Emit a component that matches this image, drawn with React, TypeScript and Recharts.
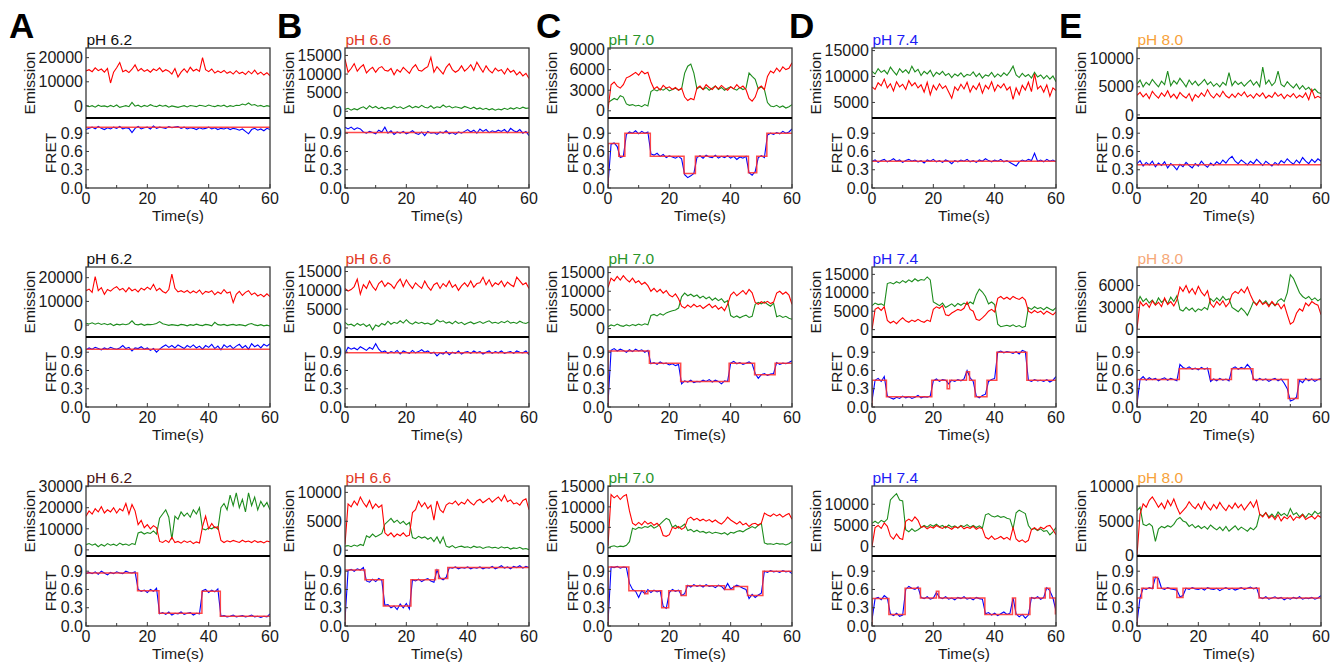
import { LineChart, Line, XAxis, YAxis } from "recharts";

// smFRET time traces: acceptor (red) / donor (green) emission on top,
// FRET efficiency (blue) with its HMM step fit (red) below. One point per second.

// ---- pH 6.2 ----
const A1_ACC = [14500, 15000, 14200, 15800, 14600, 15300, 14000, 15500, 9500, 14000, 15800, 18000, 14200, 14800, 13800, 15200, 17000, 14500, 15500, 14300, 15000, 14000, 15300, 14600, 15800, 14200, 15000, 14400, 13200, 15500, 12000, 14000, 15400, 13800, 16000, 14500, 15200, 14300, 20000, 15000, 14200, 15300, 13600, 14500, 13800, 14700, 13500, 14200, 13200, 14600, 13400, 14000, 13000, 14400, 13300, 14800, 13100, 14000, 12800, 13800, 12500];
const A1_DON = [200, -300, 100, -500, 300, -200, 0, -400, 200, -300, 400, -600, -200, 100, -300, 1500, -100, 300, -400, 200, -200, 500, 0, -300, 300, -100, 200, -500, 0, -300, -600, -200, 100, -400, 200, 0, -300, 300, 100, -200, 400, 0, -300, 200, -100, 300, -400, 100, -200, 300, 200, 800, 400, 1200, 300, 600, -100, 200, -300, 100, -200];
const A1_FRET = [0.96, 0.98, 1.0, 0.97, 1.01, 0.98, 0.96, 0.99, 0.97, 1.0, 0.98, 1.01, 0.97, 0.99, 0.98, 0.91, 0.98, 1.01, 0.97, 0.99, 1.0, 0.97, 1.02, 0.98, 1.0, 0.99, 0.98, 1.01, 0.99, 1.0, 1.01, 0.98, 1.0, 0.97, 0.99, 0.98, 0.96, 0.99, 0.97, 0.98, 1.0, 0.97, 0.99, 0.96, 0.98, 0.97, 0.99, 0.96, 0.98, 0.97, 0.95, 0.97, 0.93, 0.89, 0.96, 0.98, 0.95, 0.97, 0.94, 0.98, 0.96];
const A1_FIT = [[0, 1.0], [60, 1.0]];

const A2_ACC = [14500, 15200, 13800, 20500, 14500, 15800, 13000, 15000, 14300, 15500, 16200, 14800, 15500, 14000, 15800, 14500, 15200, 14000, 15600, 14800, 16000, 15000, 17200, 14500, 15500, 14200, 13500, 15000, 21500, 15500, 14000, 14500, 13800, 14600, 13500, 14400, 13600, 14800, 13000, 14200, 13800, 14500, 12800, 14000, 13200, 15000, 13500, 14000, 9500, 13000, 14200, 12500, 13800, 14500, 12800, 13600, 12300, 13000, 12000, 13200, 12000];
const A2_DON = [800, 500, 1000, 400, 900, 300, 700, 200, 600, -200, 400, 100, 500, 200, 600, 1800, 400, 100, 500, -100, 300, 200, 400, 700, 1500, 600, 300, -100, 200, 0, -200, 300, 100, -300, 200, -100, 400, 0, -200, 300, 100, -300, 1200, 200, 0, 300, -200, 100, 300, -100, 200, 0, -300, 400, 700, 100, -200, 200, -300, 0, -400];
const A2_FRET = [0.94, 0.97, 0.95, 0.98, 0.96, 0.94, 0.97, 0.95, 0.98, 0.96, 0.95, 0.97, 1.01, 0.96, 0.98, 0.92, 0.97, 0.96, 0.99, 0.95, 0.97, 0.93, 0.96, 0.9, 0.95, 0.99, 1.02, 0.98, 1.01, 0.97, 1.02, 0.99, 0.96, 1.01, 0.98, 1.02, 0.97, 1.0, 0.95, 1.01, 0.98, 1.03, 0.96, 1.0, 0.94, 1.02, 0.98, 1.01, 0.96, 1.0, 1.03, 0.97, 1.01, 0.95, 1.04, 0.99, 1.02, 0.97, 1.03, 1.0, 1.04];
const A2_FIT = [[0, 0.95], [60, 0.95]];

const A3_ACC = [16000, 18500, 17000, 19500, 18000, 20500, 17500, 19000, 18000, 20000, 17500, 19500, 18500, 22000, 17000, 21500, 18500, 12000, 14000, 10500, 12000, 10000, 11500, 10500, 4000, 3500, 4500, 3500, 6000, 3500, 4000, 3200, 4300, 3500, 4200, 3000, 3800, 3300, 11000, 16000, 10000, 12500, 10500, 11000, 4500, 3500, 4300, 3800, 4500, 4000, 3500, 4600, 3800, 4200, 3500, 4400, 3600, 4000, 3300, 4200, 3800];
const A3_DON = [2500, 3000, 2200, 2800, 1500, 2600, 1800, 3000, 2200, 2700, 2000, 3200, 2400, 2800, 2100, 3000, 2500, 8000, 8500, 7500, 8200, 7800, 9000, 7500, 15000, 17000, 19000, 15500, 5000, 16000, 14500, 18000, 16000, 17500, 15500, 19000, 17000, 20000, 10000, 9500, 10500, 10000, 11000, 9800, 20000, 22000, 19000, 26000, 21000, 27000, 20000, 24000, 18000, 27000, 21000, 25000, 19000, 23000, 20500, 22500, 19000];
const A3_FRET = [0.86, 0.88, 0.86, 0.89, 0.85, 0.9, 0.87, 0.84, 0.88, 0.86, 0.89, 0.87, 0.86, 0.9, 0.88, 0.87, 0.89, 0.6, 0.57, 0.59, 0.55, 0.6, 0.57, 0.62, 0.2, 0.22, 0.19, 0.23, 0.18, 0.21, 0.2, 0.23, 0.19, 0.21, 0.22, 0.18, 0.21, 0.2, 0.58, 0.6, 0.55, 0.59, 0.56, 0.61, 0.16, 0.17, 0.15, 0.16, 0.18, 0.15, 0.16, 0.17, 0.15, 0.16, 0.18, 0.15, 0.16, 0.14, 0.16, 0.15, 0.2];
const A3_FIT = [[0, 0.87], [16.8, 0.58], [23.8, 0.21], [37.8, 0.57], [43.8, 0.16], [60, 0.16]];

// ---- pH 6.6 ----
const B1_ACC = [14000, 10500, 11500, 12800, 10800, 11800, 12500, 10300, 11200, 11800, 10500, 11600, 12000, 11000, 10800, 11500, 9800, 11200, 10500, 11800, 11000, 10200, 11700, 12500, 11000, 10800, 11500, 12000, 14500, 10500, 12000, 11000, 10000, 11800, 12800, 11200, 10500, 11000, 12200, 10800, 11500, 12500, 11000, 13200, 11800, 10500, 12200, 11000, 10300, 11600, 10800, 11200, 10000, 11500, 10500, 11000, 9800, 10600, 9500, 10200, 8800];
const B1_DON = [500, 800, 300, 700, 400, 900, 1200, 600, 1500, 900, 1300, 700, 1100, 600, 1000, 800, 1400, 900, 1200, 700, 1100, 1500, 900, 1300, 1000, 1600, 1100, 900, 1500, 800, 1200, 1000, 1700, 1100, 1400, 900, 1200, 1000, 800, 1300, 1000, 700, 1100, 600, 900, 500, 800, 400, 700, 300, 600, 400, 800, 500, 900, 600, 1000, 700, 1100, 800, 900];
const B1_FRET = [1.0, 0.97, 1.0, 0.96, 0.99, 0.97, 0.92, 0.9, 0.93, 0.91, 0.89, 0.95, 0.92, 1.0, 0.9, 0.94, 0.88, 0.92, 0.9, 0.93, 0.89, 0.91, 0.94, 0.9, 0.88, 0.92, 0.86, 0.93, 0.9, 0.91, 0.88, 0.92, 0.9, 0.94, 0.89, 0.91, 0.88, 0.92, 0.9, 0.93, 0.96, 0.92, 0.95, 0.9, 0.97, 0.93, 0.96, 0.91, 0.94, 0.92, 0.95, 0.93, 0.96, 0.91, 0.98, 0.94, 0.92, 0.96, 0.9, 0.93, 0.86];
const B1_FIT = [[0, 0.91], [60, 0.91]];

const B2_ACC = [10500, 9800, 10200, 11000, 13000, 9000, 11500, 10500, 12500, 11000, 10000, 11800, 12500, 11000, 12000, 11500, 10500, 12000, 13000, 11000, 12800, 11500, 10500, 12000, 11200, 10500, 12500, 11000, 10000, 11500, 12000, 10500, 11800, 11000, 12500, 10800, 11500, 10000, 11200, 12000, 11000, 12500, 10800, 11800, 12000, 13500, 11500, 12800, 11000, 12000, 11500, 12500, 11000, 12200, 11500, 11000, 13500, 12500, 11500, 12000, 10500];
const B2_DON = [1500, 800, 1000, 500, 1200, 700, 1100, 400, 900, -500, 800, 400, 1200, 800, 1800, 1000, 1500, 1200, 1900, 1300, 2200, 1400, 1000, 1600, 1200, 1500, 1100, 1300, 900, 1200, 2200, 1600, 1900, 1300, 1600, 1100, 1800, 1200, 1500, 900, 1300, 1600, 1100, 1400, 1700, 1200, 1600, 1900, 1300, 1500, 1200, 1700, 1400, 1900, 1300, 1500, 1200, 1800, 1400, 1200, 1600];
const B2_FRET = [0.88, 0.98, 0.95, 0.97, 0.94, 0.99, 0.96, 0.93, 0.98, 0.95, 1.04, 0.95, 0.9, 0.92, 0.88, 0.91, 0.89, 0.93, 0.87, 0.92, 0.9, 0.88, 0.93, 0.89, 0.91, 0.94, 0.9, 0.92, 0.88, 0.9, 0.84, 0.89, 0.87, 0.91, 0.86, 0.9, 0.88, 0.92, 0.87, 0.9, 0.91, 0.88, 0.92, 0.89, 0.91, 0.87, 0.9, 0.92, 0.88, 0.91, 0.89, 0.92, 0.88, 0.9, 0.91, 0.88, 0.92, 0.9, 0.89, 0.92, 0.86];
const B2_FIT = [[0, 0.89], [60, 0.89]];

const B3_ACC = [1000, 8000, 7500, 8500, 7800, 9200, 8200, 7500, 8600, 7200, 8000, 7400, 7800, 3000, 2500, 3000, 2300, 2800, 2500, 3000, 2400, 2600, 6500, 7000, 8500, 7500, 8200, 7200, 7800, 5200, 8500, 7000, 6500, 7800, 8200, 8000, 8500, 7800, 8300, 8000, 8800, 8200, 7800, 8500, 8800, 8200, 8600, 9000, 8300, 8800, 9200, 8500, 9500, 8400, 8700, 8000, 8200, 7800, 8600, 8900, 7000];
const B3_DON = [700, 800, 600, 900, 700, 1000, 800, 2500, 2200, 2800, 2300, 2600, 2900, 4500, 5000, 5500, 4800, 5200, 4600, 5000, 4400, 4800, 2200, 2000, 2400, 2100, 2300, 1900, 2200, 1500, 2300, 1200, 2300, 700, 500, 800, 400, 600, 700, 500, 600, 400, 700, 500, 600, 300, 500, 600, 400, 500, 300, 600, 400, 500, 200, 400, 300, 500, 200, 300, 100];
const B3_FRET = [0.1, 0.91, 0.93, 0.9, 0.94, 0.92, 0.96, 0.74, 0.72, 0.77, 0.73, 0.78, 0.75, 0.34, 0.35, 0.3, 0.33, 0.27, 0.36, 0.3, 0.37, 0.28, 0.76, 0.74, 0.77, 0.73, 0.76, 0.78, 0.74, 0.72, 0.92, 0.79, 0.76, 0.8, 0.96, 0.95, 0.97, 0.94, 0.96, 0.95, 0.97, 0.94, 0.96, 0.95, 0.97, 0.94, 0.96, 0.95, 0.98, 0.94, 0.96, 0.99, 0.95, 0.97, 0.94, 0.98, 0.96, 0.99, 0.95, 0.98, 0.96];
const B3_FIT = [[0, 0], [0, 0.92], [6.5, 0.76], [12.5, 0.33], [21.5, 0.76], [29.5, 0.92], [30.5, 0.78], [33.5, 0.96], [60, 0.96]];

// ---- pH 7.0 ----
const C1_ACC = [200, 3800, 4200, 3600, 3300, 3800, 4800, 5000, 5300, 5600, 5200, 5800, 5400, 5600, 4200, 3200, 3500, 3000, 3700, 3300, 3500, 3100, 3400, 3000, 3300, 2000, 1500, 1800, 1600, 3300, 3600, 3100, 3800, 3400, 3100, 3600, 3200, 3700, 3300, 3000, 3500, 3200, 3800, 3300, 3600, 3100, 1800, 1400, 2000, 3300, 3600, 3100, 5000, 5800, 5500, 6200, 5700, 6400, 6000, 6200, 7000];
const C1_DON = [1200, 1500, 1800, 1600, 2200, 2000, 1000, 800, 900, 700, 800, 600, 900, 700, 2800, 3100, 2900, 3200, 3000, 3300, 2900, 3100, 3300, 3000, 3200, 5500, 6500, 6800, 5500, 3200, 3500, 3100, 3400, 3000, 3300, 3600, 3100, 3400, 3000, 3300, 3500, 3200, 3000, 3400, 3100, 3300, 5500, 5000, 4600, 3200, 3500, 3100, 1200, 700, 600, 800, 500, 700, 400, 600, 900];
const C1_FRET = [0.05, 0.72, 0.74, 0.68, 0.5, 0.52, 0.88, 0.92, 0.9, 0.94, 0.89, 0.93, 0.9, 0.92, 0.56, 0.54, 0.57, 0.52, 0.55, 0.5, 0.53, 0.51, 0.49, 0.52, 0.48, 0.22, 0.17, 0.2, 0.24, 0.5, 0.53, 0.49, 0.54, 0.51, 0.5, 0.54, 0.49, 0.52, 0.5, 0.53, 0.49, 0.52, 0.47, 0.51, 0.49, 0.52, 0.25, 0.21, 0.27, 0.5, 0.53, 0.5, 0.87, 0.9, 0.88, 0.91, 0.89, 0.93, 0.9, 0.92, 0.97];
const C1_FIT = [[0, 0], [0, 0.73], [3.5, 0.52], [5.5, 0.9], [13.8, 0.52], [24.8, 0.24], [28.5, 0.52], [45.8, 0.25], [48.5, 0.52], [51.8, 0.9], [60, 0.9]];

const C2_ACC = [11000, 13500, 12800, 14000, 13000, 14200, 13200, 12500, 13500, 12300, 12800, 11800, 12400, 11500, 10000, 10800, 9800, 10500, 9500, 10200, 9000, 8500, 9300, 8000, 6000, 5500, 6300, 5700, 6500, 5800, 6200, 5400, 6000, 6600, 5600, 6200, 5200, 5800, 4800, 6500, 9000, 9800, 8800, 9500, 10200, 9200, 10500, 9600, 7000, 6500, 7200, 6800, 7300, 6700, 7100, 9500, 10000, 9200, 9800, 9000, 6500];
const C2_DON = [500, 1000, 700, 1200, 800, 600, 1000, 700, 1100, 800, 1200, 900, 1300, 1000, 3500, 3800, 3400, 4000, 3600, 4200, 4500, 4800, 5000, 5500, 8500, 9500, 8800, 9200, 8600, 9000, 8200, 8700, 8000, 8500, 7600, 8200, 7500, 8000, 7000, 7500, 3500, 3000, 3400, 2900, 3300, 3600, 3000, 3300, 6500, 7000, 6600, 7200, 6500, 6000, 6800, 3200, 3500, 3000, 3300, 2800, 2500];
const C2_FRET = [0.05, 0.93, 0.96, 0.92, 0.95, 0.93, 0.9, 0.94, 0.91, 0.95, 0.92, 0.94, 0.9, 0.93, 0.71, 0.73, 0.7, 0.74, 0.71, 0.72, 0.69, 0.71, 0.68, 0.7, 0.38, 0.43, 0.41, 0.44, 0.4, 0.42, 0.41, 0.44, 0.42, 0.45, 0.41, 0.44, 0.42, 0.38, 0.43, 0.42, 0.72, 0.75, 0.71, 0.73, 0.7, 0.72, 0.74, 0.71, 0.55, 0.47, 0.53, 0.55, 0.52, 0.54, 0.55, 0.73, 0.7, 0.72, 0.71, 0.73, 0.76];
const C2_FIT = [[0, 0], [0, 0.92], [13.5, 0.72], [23.7, 0.42], [39.5, 0.72], [47.8, 0.53], [54.5, 0.72], [60, 0.72]];

const C3_ACC = [500, 13000, 12200, 12800, 11800, 12600, 13000, 9000, 6000, 5500, 6200, 5600, 6500, 5800, 6200, 5500, 6000, 5200, 3000, 2800, 3200, 5000, 4700, 5200, 4500, 5000, 7000, 7500, 6800, 7200, 6600, 7000, 6500, 6900, 6300, 6800, 6200, 5800, 6500, 7500, 6800, 6300, 5800, 6400, 5600, 6000, 5200, 5800, 6000, 5500, 6000, 8500, 8000, 7700, 8300, 7800, 8200, 7500, 8000, 8400, 7000];
const C3_DON = [0, 300, 500, 200, 400, 300, 600, 1500, 4800, 4500, 5000, 4800, 5200, 5000, 5500, 4800, 5200, 5800, 6500, 7200, 6800, 5000, 5500, 4800, 5200, 5800, 4200, 4500, 3900, 4300, 3800, 4000, 3600, 3900, 3500, 3800, 3600, 3400, 3700, 3200, 3800, 3600, 4000, 4200, 3900, 4400, 4800, 5200, 4800, 5500, 6000, 1200, 900, 1000, 800, 1100, 900, 1000, 700, 1000, 1500];
const C3_FRET = [0.05, 0.97, 0.96, 0.98, 0.95, 0.97, 0.96, 0.7, 0.6, 0.57, 0.47, 0.58, 0.53, 0.6, 0.55, 0.59, 0.56, 0.58, 0.32, 0.29, 0.55, 0.6, 0.57, 0.59, 0.5, 0.53, 0.67, 0.64, 0.68, 0.65, 0.67, 0.64, 0.68, 0.65, 0.66, 0.63, 0.67, 0.65, 0.6, 0.7, 0.61, 0.64, 0.67, 0.65, 0.62, 0.6, 0.45, 0.52, 0.47, 0.51, 0.54, 0.9, 0.88, 0.91, 0.89, 0.9, 0.88, 0.91, 0.89, 0.9, 0.86];
const C3_FIT = [[0, 0], [0, 0.97], [6.8, 0.58], [12, 0.53], [13, 0.58], [17.5, 0.3], [19.8, 0.58], [23.8, 0.5], [25.5, 0.66], [38, 0.6], [41, 0.65], [45.5, 0.5], [50.5, 0.9], [60, 0.9]];

// ---- pH 7.4 ----
const D1_ACC = [8000, 7500, 8800, 8200, 9500, 7800, 8600, 7200, 9000, 8000, 8500, 7500, 9200, 8200, 8800, 7800, 8400, 7000, 8900, 6500, 8300, 7400, 8600, 7700, 8200, 7000, 5800, 8000, 7300, 8500, 7600, 8900, 7000, 8200, 7500, 8700, 6800, 8300, 7600, 9000, 7200, 8400, 7800, 8600, 7400, 8000, 5600, 7800, 6500, 8300, 7400, 8900, 7100, 10500, 7600, 8200, 7000, 8400, 6200, 7800, 7300];
const D1_DON = [11000, 10500, 11500, 10800, 11200, 10500, 11800, 11000, 10300, 11500, 10800, 11300, 10600, 12000, 10900, 11400, 10200, 11000, 10500, 11200, 10000, 10800, 10400, 11000, 10200, 10600, 9800, 10500, 10100, 10700, 9900, 10400, 10200, 10900, 10000, 10600, 9700, 10300, 10100, 10800, 9900, 10500, 10000, 10700, 10200, 11000, 12000, 10300, 9800, 10600, 10000, 10400, 9700, 10800, 9900, 10300, 9600, 10200, 9500, 10100, 9000];
const D1_FRET = [0.44, 0.46, 0.42, 0.45, 0.47, 0.43, 0.45, 0.48, 0.44, 0.46, 0.42, 0.45, 0.47, 0.44, 0.46, 0.43, 0.45, 0.41, 0.46, 0.44, 0.47, 0.43, 0.45, 0.42, 0.46, 0.44, 0.4, 0.45, 0.43, 0.46, 0.44, 0.47, 0.43, 0.45, 0.42, 0.46, 0.44, 0.48, 0.45, 0.43, 0.46, 0.44, 0.47, 0.43, 0.45, 0.42, 0.39, 0.36, 0.43, 0.46, 0.44, 0.47, 0.45, 0.57, 0.44, 0.46, 0.43, 0.47, 0.44, 0.46, 0.43];
const D1_FIT = [[0, 0.44], [60, 0.44]];

const D2_ACC = [0, 5500, 6000, 5200, 6200, 2500, 1800, 2300, 1600, 2500, 3200, 2400, 2000, 2600, 2200, 2800, 2300, 2000, 2600, 2200, 5500, 6200, 5800, 6500, 4000, 3800, 4500, 5000, 5500, 5200, 5800, 7500, 5500, 5000, 2800, 2500, 3200, 4000, 5000, 5500, 4800, 8500, 9000, 8300, 8800, 8200, 9000, 8500, 8200, 8800, 8000, 5000, 4500, 5200, 4600, 5000, 4200, 5000, 4500, 4000, 4800];
const D2_DON = [6500, 7200, 6800, 7000, 6500, 12500, 12800, 12400, 13000, 12600, 13300, 12800, 13500, 13000, 13800, 13200, 13600, 13400, 14300, 13500, 7500, 7000, 6500, 7200, 6000, 6500, 7000, 6300, 7100, 6600, 7200, 6800, 7500, 7000, 9500, 11000, 10200, 9000, 7000, 7500, 6800, 1500, 800, 1000, 1200, 900, 1300, 800, 1100, 600, 900, 6000, 5500, 6200, 5700, 6000, 5400, 6100, 5600, 5200, 6000];
const D2_FRET = [0.1, 0.44, 0.47, 0.42, 0.5, 0.18, 0.15, 0.13, 0.16, 0.14, 0.18, 0.15, 0.17, 0.14, 0.16, 0.19, 0.15, 0.17, 0.16, 0.18, 0.43, 0.46, 0.42, 0.45, 0.44, 0.38, 0.44, 0.42, 0.45, 0.43, 0.46, 0.6, 0.48, 0.42, 0.18, 0.15, 0.19, 0.21, 0.42, 0.45, 0.47, 0.9, 0.92, 0.89, 0.91, 0.9, 0.88, 0.91, 0.87, 0.93, 0.91, 0.44, 0.42, 0.45, 0.43, 0.44, 0.42, 0.45, 0.41, 0.44, 0.5];
const D2_FIT = [[0, 0], [0, 0.44], [4.7, 0.17], [19.5, 0.44], [24.5, 0.3], [25.3, 0.44], [30.8, 0.58], [31.8, 0.44], [33.6, 0.17], [37.5, 0.44], [40.7, 0.9], [50.5, 0.44], [60, 0.44]];

const D3_ACC = [0, 4500, 5000, 4300, 5600, 4800, 2500, 1800, 3000, 2000, 1700, 6000, 6500, 6000, 7000, 6200, 4500, 4800, 4200, 4700, 4400, 5000, 4600, 4300, 4800, 4500, 4100, 4700, 4400, 4900, 4200, 4600, 4300, 4800, 4100, 4500, 4200, 2200, 1800, 2500, 1700, 2000, 2400, 1800, 2200, 1600, 4500, 1800, 1200, 1600, 1000, 1500, 4000, 4500, 3900, 4600, 4200, 4800, 5000, 4000, 2800];
const D3_DON = [5500, 6000, 5500, 6200, 5800, 6500, 11000, 11800, 12500, 11000, 10800, 4000, 3500, 4200, 3600, 4000, 4500, 5000, 4600, 5200, 4800, 5300, 4700, 5000, 4400, 5100, 4600, 4900, 4400, 5000, 4700, 5200, 4600, 5000, 4500, 4900, 4400, 7500, 7800, 7200, 7000, 7300, 6900, 7100, 6700, 6500, 4200, 8000, 8600, 8200, 7800, 5000, 4000, 4300, 3800, 4200, 3600, 3800, 2800, 3500, 4500];
const D3_FRET = [0.1, 0.45, 0.47, 0.43, 0.5, 0.46, 0.2, 0.17, 0.21, 0.16, 0.18, 0.6, 0.65, 0.62, 0.6, 0.64, 0.47, 0.45, 0.48, 0.44, 0.46, 0.55, 0.47, 0.45, 0.48, 0.44, 0.46, 0.43, 0.47, 0.45, 0.48, 0.44, 0.46, 0.43, 0.47, 0.45, 0.44, 0.2, 0.22, 0.18, 0.21, 0.17, 0.2, 0.23, 0.19, 0.21, 0.46, 0.2, 0.15, 0.19, 0.13, 0.18, 0.47, 0.45, 0.48, 0.44, 0.47, 0.63, 0.58, 0.46, 0.25];
const D3_FIT = [[0, 0], [0, 0.45], [5.5, 0.19], [10.8, 0.62], [15.8, 0.46], [21, 0.57], [21.8, 0.46], [36.8, 0.19], [45.8, 0.46], [46.8, 0.19], [51.5, 0.46], [56.5, 0.62], [58, 0.46], [59.8, 0.2], [60, 0.2]];

// ---- pH 8.0 ----
const E1_ACC = [3500, 4000, 3200, 3800, 2900, 4200, 3500, 3000, 3900, 3300, 4300, 3100, 3700, 2900, 4000, 3400, 3000, 3800, 2500, 3600, 3100, 3900, 3300, 4500, 3500, 3000, 3800, 3200, 4200, 3400, 3000, 3700, 3100, 3900, 3400, 4100, 3200, 3600, 3000, 3800, 3300, 3900, 3000, 3500, 3100, 4000, 3300, 3700, 2900, 3600, 3200, 3800, 3000, 3500, 3100, 3900, 2700, 4500, 3000, 3300, 3000];
const E1_DON = [5500, 6200, 5000, 5800, 5300, 6300, 5600, 5000, 6000, 5400, 7800, 5200, 6100, 5500, 6500, 5800, 5000, 6200, 5400, 6000, 5200, 5700, 6300, 5400, 5900, 5100, 5600, 5000, 5800, 5300, 7500, 5200, 6000, 5400, 5800, 5100, 5700, 6200, 5300, 5900, 5000, 8500, 5500, 6200, 5200, 5800, 7800, 5400, 5000, 5900, 5300, 4800, 5500, 4600, 5200, 4500, 4900, 4200, 4600, 4000, 3800];
const E1_FRET = [0.4, 0.45, 0.36, 0.42, 0.38, 0.44, 0.35, 0.41, 0.37, 0.43, 0.33, 0.4, 0.36, 0.3, 0.39, 0.35, 0.42, 0.37, 0.33, 0.4, 0.36, 0.44, 0.38, 0.34, 0.41, 0.37, 0.43, 0.39, 0.46, 0.41, 0.48, 0.52, 0.44, 0.4, 0.46, 0.42, 0.38, 0.44, 0.4, 0.47, 0.42, 0.37, 0.44, 0.4, 0.36, 0.42, 0.38, 0.45, 0.41, 0.48, 0.43, 0.39, 0.46, 0.41, 0.5, 0.44, 0.4, 0.47, 0.42, 0.48, 0.44];
const E1_FIT = [[0, 0.38], [60, 0.38]];

const E2_ACC = [0, 3800, 3200, 3600, 3000, 3900, 3300, 3700, 3100, 4300, 3400, 3800, 3200, 4000, 5800, 5200, 6000, 5000, 5600, 4800, 5900, 5100, 4600, 5300, 3500, 3000, 3800, 3300, 3900, 3100, 3600, 4800, 5200, 4900, 5500, 5000, 5800, 4700, 3800, 3300, 4000, 3400, 3700, 3100, 3800, 3300, 3500, 2800, 3400, 2000, 700, 1000, 2200, 2800, 2500, 3600, 3200, 3800, 3500, 3300, 2000];
const E2_DON = [3500, 4500, 3800, 4200, 3600, 4000, 3400, 4300, 3700, 4100, 3500, 4400, 3800, 4600, 2700, 2500, 3000, 2600, 2900, 2400, 2800, 2600, 3000, 2700, 4200, 3800, 4300, 3900, 4500, 4000, 4200, 3000, 2700, 2400, 2900, 2500, 1900, 2800, 3800, 3400, 4000, 3500, 3900, 3300, 3700, 3200, 3900, 4200, 3800, 5000, 7500, 7000, 6000, 5000, 4500, 4200, 4500, 4000, 4300, 3900, 4200];
const E2_FRET = [0.05, 0.45, 0.5, 0.44, 0.48, 0.45, 0.47, 0.43, 0.46, 0.48, 0.44, 0.47, 0.45, 0.43, 0.7, 0.65, 0.63, 0.66, 0.62, 0.64, 0.61, 0.65, 0.62, 0.64, 0.42, 0.46, 0.43, 0.47, 0.44, 0.46, 0.43, 0.63, 0.66, 0.62, 0.65, 0.63, 0.7, 0.64, 0.46, 0.43, 0.47, 0.44, 0.46, 0.42, 0.45, 0.47, 0.43, 0.46, 0.39, 0.3, 0.1, 0.12, 0.16, 0.44, 0.4, 0.47, 0.43, 0.46, 0.42, 0.45, 0.47];
const E2_FIT = [[0, 0], [0, 0.45], [13.8, 0.63], [24, 0.45], [30.8, 0.63], [37.8, 0.45], [49.3, 0.14], [52.5, 0.45], [60, 0.45]];

const E3_ACC = [0, 6000, 7500, 7000, 8000, 8500, 7800, 7000, 7600, 6800, 8000, 7200, 8200, 7000, 6000, 6500, 7000, 7800, 7200, 6800, 7500, 6700, 7800, 7100, 6600, 7400, 6800, 7700, 7000, 6500, 7300, 6800, 7600, 6900, 7400, 6600, 7200, 7800, 7000, 8000, 6000, 5600, 6200, 5400, 5800, 5200, 5900, 5000, 5600, 5300, 5800, 5100, 5600, 5400, 5900, 5200, 5500, 5700, 5300, 5800, 5500];
const E3_DON = [6500, 7000, 4500, 4300, 4600, 4200, 2000, 3800, 4200, 4000, 4300, 4100, 4500, 5200, 5500, 5000, 4800, 4200, 4500, 4000, 4300, 3900, 4200, 3800, 4400, 4000, 3700, 4100, 3600, 4200, 3500, 3900, 4300, 3700, 4100, 3800, 3500, 4000, 3700, 4200, 6000, 5700, 6200, 5600, 6000, 5500, 6300, 5800, 6100, 5700, 6800, 5900, 6200, 5600, 6000, 5500, 6100, 5800, 6400, 6000, 6300];
const E3_FRET = [0.05, 0.47, 0.62, 0.6, 0.63, 0.61, 0.8, 0.78, 0.62, 0.6, 0.63, 0.61, 0.6, 0.59, 0.48, 0.5, 0.62, 0.6, 0.63, 0.61, 0.6, 0.62, 0.59, 0.63, 0.61, 0.6, 0.62, 0.58, 0.61, 0.63, 0.6, 0.62, 0.59, 0.61, 0.63, 0.6, 0.62, 0.64, 0.61, 0.63, 0.47, 0.45, 0.48, 0.44, 0.46, 0.48, 0.45, 0.47, 0.43, 0.46, 0.44, 0.47, 0.45, 0.48, 0.44, 0.46, 0.45, 0.47, 0.44, 0.46, 0.5];
const E3_FIT = [[0, 0], [0, 0.46], [1.5, 0.62], [5.3, 0.8], [6.7, 0.62], [13, 0.47], [15, 0.62], [39.8, 0.46], [60, 0.46]];

const FRET_TICKS = [0, 0.3, 0.6, 0.9];
const TIME_TICKS = [0, 10, 20, 30, 40, 50, 60];

type Panel = {
  col: number; row: number; title: string; titleColor: string;
  emDomain: [number, number]; emTicks: number[];
  acc: number[]; don: number[]; fret: number[]; fit: number[][];
};

const PANELS: Panel[] = [
  { col: 0, row: 0, title: "pH 6.2", titleColor: "#111111", emDomain: [-5000, 24000], emTicks: [0, 10000, 20000], acc: A1_ACC, don: A1_DON, fret: A1_FRET, fit: A1_FIT },
  { col: 0, row: 1, title: "pH 6.2", titleColor: "#111111", emDomain: [-5000, 24500], emTicks: [0, 10000, 20000], acc: A2_ACC, don: A2_DON, fret: A2_FRET, fit: A2_FIT },
  { col: 0, row: 2, title: "pH 6.2", titleColor: "#4a1414", emDomain: [-2900, 30300], emTicks: [0, 10000, 20000, 30000], acc: A3_ACC, don: A3_DON, fret: A3_FRET, fit: A3_FIT },
  { col: 1, row: 0, title: "pH 6.6", titleColor: "#e2391f", emDomain: [-1800, 17000], emTicks: [0, 5000, 10000, 15000], acc: B1_ACC, don: B1_DON, fret: B1_FRET, fit: B1_FIT },
  { col: 1, row: 1, title: "pH 6.6", titleColor: "#e2391f", emDomain: [-2400, 16200], emTicks: [0, 5000, 10000, 15000], acc: B2_ACC, don: B2_DON, fret: B2_FRET, fit: B2_FIT },
  { col: 1, row: 2, title: "pH 6.6", titleColor: "#e2391f", emDomain: [-1000, 11100], emTicks: [0, 5000, 10000], acc: B3_ACC, don: B3_DON, fret: B3_FRET, fit: B3_FIT },
  { col: 2, row: 0, title: "pH 7.0", titleColor: "#2a962a", emDomain: [-1050, 9150], emTicks: [0, 3000, 6000, 9000], acc: C1_ACC, don: C1_DON, fret: C1_FRET, fit: C1_FIT },
  { col: 2, row: 1, title: "pH 7.0", titleColor: "#2a962a", emDomain: [-2250, 16500], emTicks: [0, 5000, 10000, 15000], acc: C2_ACC, don: C2_DON, fret: C2_FRET, fit: C2_FIT },
  { col: 2, row: 2, title: "pH 7.0", titleColor: "#2a962a", emDomain: [-2000, 15100], emTicks: [0, 5000, 10000, 15000], acc: C3_ACC, don: C3_DON, fret: C3_FRET, fit: C3_FIT },
  { col: 3, row: 0, title: "pH 7.4", titleColor: "#1c1cf5", emDomain: [2000, 15500], emTicks: [5000, 10000, 15000], acc: D1_ACC, don: D1_DON, fret: D1_FRET, fit: D1_FIT },
  { col: 3, row: 1, title: "pH 7.4", titleColor: "#1c1cf5", emDomain: [-2000, 17000], emTicks: [0, 5000, 10000, 15000], acc: D2_ACC, don: D2_DON, fret: D2_FRET, fit: D2_FIT },
  { col: 3, row: 2, title: "pH 7.4", titleColor: "#1c1cf5", emDomain: [-2200, 14300], emTicks: [0, 5000, 10000], acc: D3_ACC, don: D3_DON, fret: D3_FRET, fit: D3_FIT },
  { col: 4, row: 0, title: "pH 8.0", titleColor: "#f7a23a", emDomain: [-550, 11900], emTicks: [0, 5000, 10000], acc: E1_ACC, don: E1_DON, fret: E1_FRET, fit: E1_FIT },
  { col: 4, row: 1, title: "pH 8.0", titleColor: "#f6a878", emDomain: [-1070, 8550], emTicks: [0, 3000, 6000], acc: E2_ACC, don: E2_DON, fret: E2_FRET, fit: E2_FIT },
  { col: 4, row: 2, title: "pH 8.0", titleColor: "#f7a23a", emDomain: [-120, 10100], emTicks: [0, 5000, 10000], acc: E3_ACC, don: E3_DON, fret: E3_FRET, fit: E3_FIT },
];

const LETTERS = ["A", "B", "C", "D", "E"];

// layout
const COL_LEFT = [86, 345, 608, 872, 1137];
const LETTER_X = [9, 277, 536, 789, 1059];
const ROW_TOP = [48, 267, 486];
const PLOT_W = 184;
const EM_H = 70;
const FR_H = 70;
const YW = 62;
const RM = 16;
const PAD = 10;
const XH = 30;
const FRET_MAX = 1.15;

const FONT = "'Liberation Sans', Arial, Helvetica, sans-serif";
const INK = "#1a1a1a";
const FRAME = "#3a3a3a";
const RED = "#ff0000";
const GREEN = "#1d8c1d";
const BLUE = "#0000ff";
const FIT_RED = "#ff2a2a";
const TICK_FS = 16;
const X_GAP = 4;
const Y_GAP = 3;

const makeYTick = (fmt: (v: number) => string) => (props: any) => {
  const { x, y, payload } = props;
  const axisX = x + Y_GAP;
  return (
    <g>
      <line x1={axisX} x2={axisX + 3} y1={y} y2={y} stroke={FRAME} strokeWidth={1} />
      <text x={x} y={y + 5.7} textAnchor="end" fontSize={TICK_FS} fontFamily={FONT} fill={INK}>
        {fmt(payload.value)}
      </text>
    </g>
  );
};

const emTick = makeYTick((v) => String(v));
const fretTick = makeYTick((v) => v.toFixed(1));

const timeTick = (props: any) => {
  const { x, y, payload } = props;
  const v = payload.value;
  const major = v % 20 === 0;
  const base = y - X_GAP;
  return (
    <g>
      <line x1={x} x2={x} y1={base} y2={base - (major ? 4 : 3)} stroke={FRAME} strokeWidth={1} />
      {major && (
        <text x={x} y={y + 11.5} textAnchor="middle" fontSize={TICK_FS} fontFamily={FONT} fill={INK}>
          {v}
        </text>
      )}
    </g>
  );
};

function TracePanel({ p }: { p: Panel }) {
  const left = COL_LEFT[p.col];
  const top = ROW_TOP[p.row];
  const em = p.acc.map((a, i) => ({ t: i, acc: a, don: p.don[i] }));
  const fr = p.fret.map((f, i) => ({ t: i, fret: f }));
  const fit = p.fit.map(([t, v]) => ({ t, fit: v }));

  return (
    <>
      <div style={{ position: "absolute", left: left - YW, top: top - PAD }}>
        <LineChart width={YW + PLOT_W + RM} height={EM_H + 2 * PAD} data={em} margin={{ top: PAD, right: RM, bottom: PAD, left: 0 }}>
          <XAxis dataKey="t" type="number" domain={[0, 60]} hide allowDataOverflow />
          <YAxis
            type="number"
            domain={p.emDomain}
            ticks={p.emTicks}
            interval={0}
            allowDataOverflow
            width={YW}
            axisLine={false}
            tickLine={false}
            tickSize={0}
            tickMargin={Y_GAP}
            tick={emTick}
          />
          <Line dataKey="don" type="linear" stroke={GREEN} strokeWidth={1.1} dot={false} activeDot={false} isAnimationActive={false} />
          <Line dataKey="acc" type="linear" stroke={RED} strokeWidth={1.1} dot={false} activeDot={false} isAnimationActive={false} />
        </LineChart>
      </div>
      <div style={{ position: "absolute", left: left - YW, top: top + EM_H }}>
        <LineChart width={YW + PLOT_W + RM} height={FR_H + XH} data={fr} margin={{ top: 0, right: RM, bottom: 0, left: 0 }}>
          <XAxis
            dataKey="t"
            type="number"
            domain={[0, 60]}
            ticks={TIME_TICKS}
            interval={0}
            allowDataOverflow
            height={XH}
            axisLine={false}
            tickLine={false}
            tickSize={0}
            tickMargin={X_GAP}
            tick={timeTick}
          />
          <YAxis
            type="number"
            domain={[0, FRET_MAX]}
            ticks={FRET_TICKS}
            interval={0}
            allowDataOverflow
            width={YW}
            axisLine={false}
            tickLine={false}
            tickSize={0}
            tickMargin={Y_GAP}
            tick={fretTick}
          />
          <Line dataKey="fret" type="linear" stroke={BLUE} strokeWidth={1.1} dot={false} activeDot={false} isAnimationActive={false} />
          <Line data={fit} dataKey="fit" type="stepAfter" stroke={FIT_RED} strokeOpacity={0.85} strokeWidth={1.5} dot={false} activeDot={false} isAnimationActive={false} />
        </LineChart>
      </div>
    </>
  );
}

function Labels() {
  return (
    <svg width={1334} height={664} style={{ position: "absolute", left: 0, top: 0, pointerEvents: "none" }} fontFamily={FONT}>
      {LETTERS.map((l, i) => (
        <text key={l} x={LETTER_X[i]} y={38} fontSize={35} fontWeight={700} fill="#000">
          {l}
        </text>
      ))}
      {PANELS.map((p, i) => {
        const left = COL_LEFT[p.col];
        const top = ROW_TOP[p.row];
        const bottom = top + EM_H + FR_H;
        return (
          <g key={i}>
            <text x={left + 0.5} y={top - 3.5} fontSize={15.5} fill={p.titleColor}>
              {p.title}
            </text>
            <text
              transform={`translate(${left - 57}, ${top + EM_H / 2}) rotate(-90)`}
              textAnchor="middle"
              dominantBaseline="central"
              fontSize={15.5}
              fill={INK}
            >
              Emission
            </text>
            <text
              transform={`translate(${left - 36}, ${top + EM_H + FR_H / 2}) rotate(-90)`}
              textAnchor="middle"
              dominantBaseline="central"
              fontSize={15.5}
              fill={INK}
            >
              FRET
            </text>
            <text x={left + PLOT_W / 2} y={bottom + 33} textAnchor="middle" fontSize={15.5} fill={INK}>
              Time(s)
            </text>
            <rect x={left} y={top} width={PLOT_W} height={EM_H + FR_H} fill="none" stroke={FRAME} strokeWidth={1.3} />
            <line x1={left} x2={left + PLOT_W} y1={top + EM_H} y2={top + EM_H} stroke="#000" strokeWidth={2} />
          </g>
        );
      })}
    </svg>
  );
}

export default function App() {
  return (
    <div style={{ position: "absolute", left: 0, top: 0, width: 1334, height: 664, background: "#fff", overflow: "hidden" }}>
      {PANELS.map((p, i) => (
        <TracePanel key={i} p={p} />
      ))}
      <Labels />
    </div>
  );
}
